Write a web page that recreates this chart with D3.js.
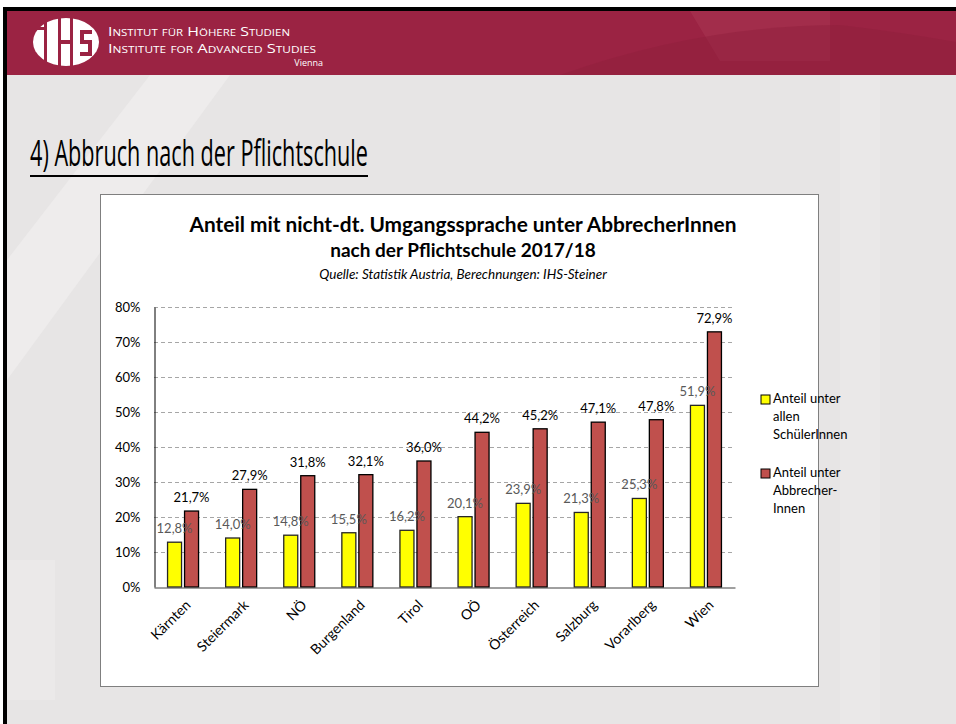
<!doctype html>
<html>
  <head>
    <meta charset="utf-8">
    <title>Abbruch nach der Pflichtschule</title>
    <script src="https://d3js.org/d3.v7.min.js"></script>
    <style type="text/css">
      body { margin: 0; background-color: #ffffff; }
      svg { display: block; }
    </style>
  </head>
  <body>
    <script>
      // data
      var categories = ["Kärnten", "Steiermark", "NÖ", "Burgenland", "Tirol", "OÖ", "Österreich", "Salzburg", "Vorarlberg", "Wien"];
      var anteilAlle = [12.8, 14.0, 14.8, 15.5, 16.2, 20.1, 23.9, 21.3, 25.3, 51.9];
      var anteilAbbrecher = [21.7, 27.9, 31.8, 32.1, 36.0, 44.2, 45.2, 47.1, 47.8, 72.9];
      var seriesNames = ["Anteil unter allen SchülerInnen", "Anteil unter Abbrecher-Innen"];
      var legendLines = [["Anteil unter", "allen", "SchülerInnen"], ["Anteil unter", "Abbrecher-", "Innen"]];
      var yTicks = [0, 10, 20, 30, 40, 50, 60, 70, 80];

      var w = 956, h = 724;
      var font = "Lato, 'Open Sans', sans-serif";

      var svg = d3.select("body").append("svg")
        .attr("width", w)
        .attr("height", h);

      // slide background
      svg.append("rect").attr("x", 3).attr("y", 7).attr("width", w - 3).attr("height", h - 7).attr("fill", "#000");
      svg.append("rect").attr("x", 7).attr("y", 11).attr("width", w - 7).attr("height", h - 11).attr("fill", "#e7e5e5");
      // faint background shapes
      svg.append("path").attr("d", "M7,260 L150,75 L230,75 L7,380 Z").attr("fill", "#eeecec");
      svg.append("path").attr("d", "M7,560 L55,560 L55,700 L7,700 Z").attr("fill", "#ebe9e9");
      svg.append("rect").attr("x", 840).attr("y", 75).attr("width", 40).attr("height", 650).attr("fill", "#eae8e8");

      // header band
      svg.append("rect").attr("x", 7).attr("y", 11).attr("width", w - 7).attr("height", 64).attr("fill", "#9b2343");
      svg.append("path").attr("d", "M690,11 L830,11 L830,61 L720,61 Z").attr("fill", "#a63452").attr("opacity", 0.6);
      svg.append("path").attr("d", "M560,75 Q700,25 840,25 Q900,32 956,42 L956,75 Z").attr("fill", "#8e1f3c").attr("opacity", 0.45);

      // logo
      var logo = svg.append("g");
      logo.append("ellipse").attr("cx", 66).attr("cy", 42).attr("rx", 33).attr("ry", 24).attr("fill", "#fff");
      logo.append("rect").attr("x", 44).attr("y", 17).attr("width", 3).attr("height", 50).attr("fill", "#9b2343");
      logo.append("rect").attr("x", 33).attr("y", 27).attr("width", 14).attr("height", 3).attr("fill", "#9b2343");
      logo.append("rect").attr("x", 58).attr("y", 17).attr("width", 3).attr("height", 50).attr("fill", "#9b2343");
      logo.append("rect").attr("x", 61).attr("y", 40).attr("width", 9).attr("height", 4).attr("fill", "#9b2343");
      logo.append("rect").attr("x", 70).attr("y", 17).attr("width", 3).attr("height", 50).attr("fill", "#9b2343");
      logo.append("path").attr("d", "M80,30 L92,30 L92,34 L84,34 L84,40 L92,40 L92,56 L80,56 L80,52 L88,52 L88,44 L80,44 Z").attr("fill", "#9b2343");

      var hdr = svg.append("g").attr("fill", "#fff").style("font-family", "'Open Sans', sans-serif")
        .style("font-variant", "small-caps");
      hdr.append("text").attr("x", 108).attr("y", 36).style("font-size", "12.5px")
        .attr("textLength", 182).attr("lengthAdjust", "spacingAndGlyphs").text("Institut für Höhere Studien");
      hdr.append("text").attr("x", 108).attr("y", 53).style("font-size", "12.5px")
        .attr("textLength", 208).attr("lengthAdjust", "spacingAndGlyphs").text("Institute for Advanced Studies");
      hdr.append("text").attr("x", 323).attr("y", 66).attr("text-anchor", "end")
        .style("font-size", "9px").style("font-variant", "normal").text("Vienna");

      // slide title
      svg.append("text")
        .attr("x", 30).attr("y", 166)
        .style("font-family", "'Open Sans', sans-serif")
        .style("font-size", "37px")
        .attr("textLength", 338).attr("lengthAdjust", "spacingAndGlyphs")
        .attr("fill", "#000")
        .text("4) Abbruch nach der Pflichtschule");
      svg.append("rect").attr("x", 30).attr("y", 175).attr("width", 338).attr("height", 2).attr("fill", "#000");

      // chart box
      svg.append("rect").attr("x", 100.5).attr("y", 194.5).attr("width", 718).attr("height", 492)
        .attr("fill", "#fff").attr("stroke", "#7f7f7f");

      var titles = svg.append("g").attr("text-anchor", "middle").style("font-family", font).attr("fill", "#000");
      titles.append("text").attr("x", 463).attr("y", 232).style("font-size", "20px").style("font-weight", "bold")
        .attr("textLength", 547).attr("lengthAdjust", "spacingAndGlyphs")
        .text("Anteil mit nicht-dt. Umgangssprache unter AbbrecherInnen");
      titles.append("text").attr("x", 463).attr("y", 257).style("font-size", "19px").style("font-weight", "bold")
        .text("nach der Pflichtschule 2017/18");
      titles.append("text").attr("x", 463).attr("y", 279).style("font-size", "13.5px").style("font-style", "italic")
        .text("Quelle: Statistik Austria, Berechnungen: IHS-Steiner");

      // scales
      var x0 = 154, x1 = 735, yTop = 307, yBot = 587;
      var x = d3.scaleBand().domain(categories).range([x0, x1]);
      var y = d3.scaleLinear().domain([0, 80]).range([yBot, yTop]);
      var barW = 14, gap = 3;

      var plot = svg.append("g");

      // gridlines
      plot.selectAll(".grid").data(yTicks.filter(function(d) { return d > 0; })).enter()
        .append("line")
        .attr("x1", x0).attr("x2", x1)
        .attr("y1", function(d) { return Math.round(y(d)) + 0.5; })
        .attr("y2", function(d) { return Math.round(y(d)) + 0.5; })
        .attr("stroke", "#a6a6a6").attr("stroke-dasharray", "4,3");

      // y axis
      var yAxis = d3.axisLeft(y).tickValues(yTicks).tickSize(0).tickPadding(14)
        .tickFormat(function(d) { return d + "%"; });
      var ya = plot.append("g").attr("transform", "translate(" + (x0 + 0.5) + ",0)").call(yAxis);
      ya.select(".domain").attr("stroke", "#000");
      ya.selectAll("text").style("font-family", font).style("font-size", "13px").attr("fill", "#000");

      // bars
      var groups = plot.selectAll(".cat").data(categories).enter().append("g");
      groups.append("rect")
        .attr("x", function(d) { return x(d) + x.bandwidth() / 2 - gap / 2 - barW; })
        .attr("y", function(d, i) { return y(anteilAlle[i]); })
        .attr("width", barW)
        .attr("height", function(d, i) { return yBot - y(anteilAlle[i]); })
        .attr("fill", "#ffff00").attr("stroke", "#262626").attr("stroke-width", 1.3);
      groups.append("rect")
        .attr("x", function(d) { return x(d) + x.bandwidth() / 2 + gap / 2; })
        .attr("y", function(d, i) { return y(anteilAbbrecher[i]); })
        .attr("width", barW)
        .attr("height", function(d, i) { return yBot - y(anteilAbbrecher[i]); })
        .attr("fill", "#c0504d").attr("stroke", "#000").attr("stroke-width", 1.3);

      function fmt(v) { return v.toFixed(1).replace(".", ",") + "%"; }

      groups.append("text")
        .attr("x", function(d) { return x(d) + x.bandwidth() / 2 - gap / 2 - barW / 2; })
        .attr("y", function(d, i) { return y(anteilAlle[i]) - 9; })
        .attr("text-anchor", "middle")
        .style("font-family", font).style("font-size", "13px").attr("fill", "#595959")
        .text(function(d, i) { return fmt(anteilAlle[i]); });
      groups.append("text")
        .attr("x", function(d) { return x(d) + x.bandwidth() / 2 + gap / 2 + barW / 2; })
        .attr("y", function(d, i) { return y(anteilAbbrecher[i]) - 9; })
        .attr("text-anchor", "middle")
        .style("font-family", font).style("font-size", "13px").attr("fill", "#000")
        .text(function(d, i) { return fmt(anteilAbbrecher[i]); });

      // x axis
      var xAxis = d3.axisBottom(x).tickSize(0).tickPadding(0);
      var xa = plot.append("g").attr("transform", "translate(0," + (yBot + 0.5) + ")").call(xAxis);
      xa.select(".domain").attr("stroke", "#404040");
      xa.selectAll("text")
        .style("font-family", font).style("font-size", "14px").attr("fill", "#000")
        .attr("text-anchor", "end")
        .attr("dy", "0.35em")
        .attr("transform", "translate(5,15) rotate(-45)");

      // legend
      var legendColors = ["#ffff00", "#c0504d"];
      var leg = svg.append("g").selectAll(".leg").data(seriesNames).enter().append("g")
        .attr("transform", function(d, i) { return "translate(761," + (395 + i * 74) + ")"; });
      leg.append("rect").attr("width", 9).attr("height", 9)
        .attr("fill", function(d, i) { return legendColors[i]; })
        .attr("stroke", "#000");
      leg.append("text")
        .style("font-family", font).style("font-size", "13px").attr("fill", "#000")
        .selectAll("tspan").data(function(d, i) { return legendLines[i]; }).enter().append("tspan")
        .attr("x", 12).attr("y", function(d, j) { return 8 + j * 18; })
        .text(function(d) { return d; });
    </script>
  </body>
</html>
